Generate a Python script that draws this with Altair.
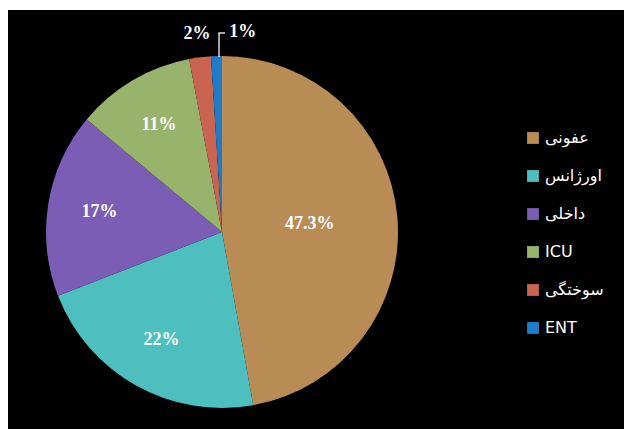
import altair as alt
import pandas as pd

categories = ["عفونی", "اورژانس", "داخلی", "ICU", "سوختگی", "ENT"]
values = [47.3, 22, 17, 11, 2, 1]
colors = ["#B98B55", "#4DBFBE", "#7B5DB6", "#98B46C", "#C8644F", "#1F7BC8"]

df = pd.DataFrame({"cat": categories, "value": values, "ord": list(range(len(values)))})

W, H = 616, 419
CX, CY, R = 214, 222, 176

color = alt.Color(
    "cat:N",
    scale=alt.Scale(domain=categories, range=colors),
    sort=categories,
    legend=alt.Legend(
        title=None,
        orient="none",
        legendX=517,
        legendY=120,
        symbolType="square",
        symbolSize=140,
        symbolStrokeWidth=0,
        labelColor="white",
        labelFont="DejaVu Sans",
        labelFontSize=16,
        rowPadding=22,
        labelOffset=4,
    ),
)

pie = alt.Chart(df).mark_arc(outerRadius=R, stroke=None).encode(
    theta=alt.Theta("value:Q", stack=True),
    order=alt.Order("ord:Q"),
    color=color,
    x=alt.value(CX),
    y=alt.value(CY),
)

labels = alt.Chart(df).transform_joinaggregate(
    total="sum(value)"
).transform_window(
    cum="sum(value)", sort=[alt.SortField("ord")], frame=[None, 0]
).transform_calculate(
    lbl="toString(datum.value) + '%'",
    ang="(datum.cum - datum.value / 2) / datum.total * 2 * PI",
    r="datum.value > 40 ? 88 : (datum.value >= 5 ? 124 : 200)",
    dxo="datum.value <= 1.5 ? 27 : 0",
).transform_calculate(
    px=f"{CX} + datum.r * sin(datum.ang) + datum.dxo",
    py=f"{CY} - datum.r * cos(datum.ang)",
).mark_text(
    font="Liberation Serif", fontWeight="bold", fontSize=18, color="white"
).encode(
    text="lbl:N",
    x=alt.X("px:Q", scale=None),
    y=alt.Y("py:Q", scale=None),
)

lead1 = alt.Chart(df.head(1)).mark_rule(color="#d9d9d9", strokeWidth=1.5).encode(
    x=alt.value(211), y=alt.value(47), y2=alt.value(23)
)
lead2 = alt.Chart(df.head(1)).mark_rule(color="#d9d9d9", strokeWidth=1.5).encode(
    x=alt.value(210.3), x2=alt.value(217), y=alt.value(23)
)

chart = alt.layer(pie, labels, lead1, lead2).properties(
    width=W, height=H,
    padding={"left": 8, "top": 10, "right": 0, "bottom": 0},
    autosize=alt.AutoSizeParams(type="none"),
    background="white",
).configure_view(fill="black", stroke=None)

chart.save("out.html", embed_options={"renderer": "svg", "actions": False})
